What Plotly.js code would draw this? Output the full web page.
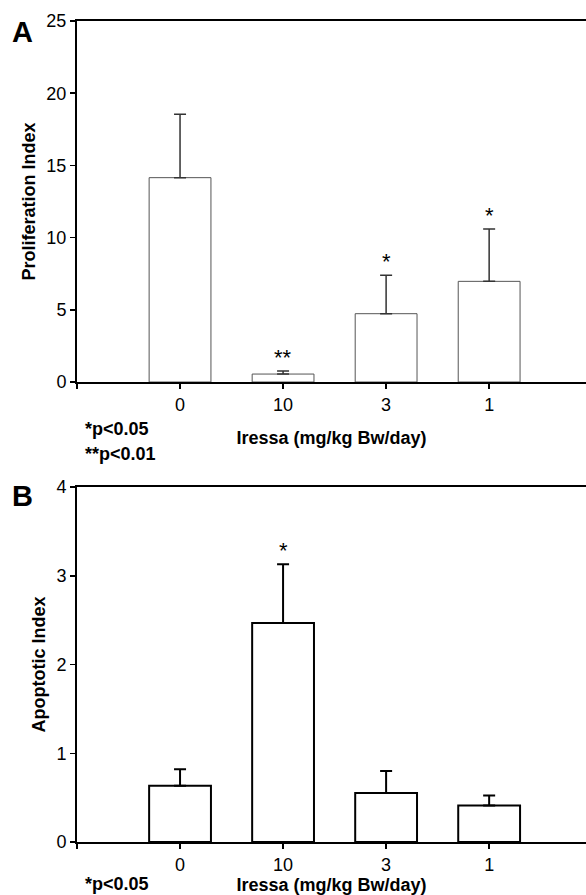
<!DOCTYPE html>
<html>
<head>
<meta charset="utf-8">
<script src="https://cdn.plot.ly/plotly-3.0.1.min.js"></script>
<style>html,body{margin:0;padding:0;background:#fff;}#chart{width:586px;height:895px;}</style>
</head>
<body>
<div id="chart"></div>
<script>
// ---- data ----
const doses = ['0', '10', '3', '1'];
const proliferation = [14.15, 0.55, 4.73, 6.97];
const proliferationErr = [4.39, 0.22, 2.67, 3.63];
const proliferationSig = ['', '**', '*', '*'];
const apoptotic = [0.633, 2.467, 0.551, 0.41];
const apoptoticErr = [0.187, 0.663, 0.249, 0.115];
const apoptoticSig = ['', '*', '', ''];

const xpos = doses.map((_, i) => i + 1);
const W = 586, H = 895;
const M = {l: 77, r: 0, t: 21, b: 53};
const pw = W - M.l - M.r, ph = H - M.t - M.b;
const px = x => (x - M.l) / pw;
const py = y => (H - M.b - y) / ph;
const FONT = 'Liberation Sans, Arial, Helvetica, sans-serif';

const traces = [
  {
    type: 'bar', x: xpos, y: proliferation, xaxis: 'x', yaxis: 'y', width: 0.6,
    marker: {color: '#ffffff', line: {color: '#555555', width: 1}},
    error_y: {type: 'data', array: proliferationErr, symmetric: false, arrayminus: proliferationErr.map(() => 0),
              color: '#333333', thickness: 1.5, width: 6},
    hoverinfo: 'skip', showlegend: false
  },
  {
    type: 'bar', x: xpos, y: apoptotic, xaxis: 'x2', yaxis: 'y2', width: 0.6,
    marker: {color: '#ffffff', line: {color: '#000000', width: 2}},
    error_y: {type: 'data', array: apoptoticErr, symmetric: false, arrayminus: apoptoticErr.map(() => 0),
              color: '#000000', thickness: 2, width: 6},
    hoverinfo: 'skip', showlegend: false
  }
];

function xax(domainAnchor, standoff) {
  return {
    anchor: domainAnchor, range: [0, 4.94], domain: [0, 1],
    tickmode: 'array', tickvals: [0].concat(xpos), ticktext: [''].concat(doses),
    ticks: 'outside', ticklen: 5, tickwidth: 1.5, tickcolor: '#000',
    showline: true, linewidth: 2, linecolor: '#000', mirror: true,
    showgrid: false, zeroline: false,
    tickfont: {family: FONT, size: 18, color: '#000'},
    title: {text: '<b>Iressa (mg/kg Bw/day)</b>', font: {family: FONT, size: 18, color: '#000'}, standoff: standoff}
  };
}
function yax(domain, range, dtick, title, anchor) {
  return {
    anchor: anchor, domain: domain, range: range, dtick: dtick, tick0: 0,
    ticks: 'outside', ticklen: 5, tickwidth: 1.5, tickcolor: '#000',
    showline: true, linewidth: 2, linecolor: '#000',
    showgrid: false, zeroline: false,
    tickfont: {family: FONT, size: 18, color: '#000'},
    title: {text: '<b>' + title + '</b>', font: {family: FONT, size: 18, color: '#000'}, standoff: 6}
  };
}

const annotations = [];
proliferationSig.forEach((s, i) => {
  if (s) annotations.push({xref: 'x', yref: 'y', x: xpos[i], y: proliferation[i] + proliferationErr[i],
    text: s, showarrow: false, yanchor: 'bottom', yshift: -1, font: {family: FONT, size: 22, color: '#000'}});
});
apoptoticSig.forEach((s, i) => {
  if (s) annotations.push({xref: 'x2', yref: 'y2', x: xpos[i], y: apoptotic[i] + apoptoticErr[i],
    text: s, showarrow: false, yanchor: 'bottom', yshift: -1, font: {family: FONT, size: 22, color: '#000'}});
});
const txt = (text, x, y, size, xanchor) => ({xref: 'paper', yref: 'paper', x: px(x), y: py(y), text: text,
  showarrow: false, xanchor: xanchor || 'left', yanchor: 'middle', font: {family: FONT, size: size, color: '#000'}});
annotations.push(txt('<b>A</b>', 10, 32, 29));
annotations.push(txt('<b>B</b>', 10, 496, 29));
annotations.push(txt('<b>*p<0.05</b>', 83, 429, 18));
annotations.push(txt('<b>**p<0.01</b>', 83, 454, 18));
annotations.push(txt('<b>*p<0.05</b>', 83, 884, 18));

const layout = {
  width: W, height: H, margin: M,
  paper_bgcolor: '#fff', plot_bgcolor: '#fff',
  bargap: 0.4,
  xaxis: xax('y', 18),
  yaxis: yax([py(382), 1], [0, 25], 5, 'Proliferation Index', 'x'),
  xaxis2: xax('y2', 13),
  yaxis2: yax([0, py(487)], [0, 4], 1, 'Apoptotic Index', 'x2'),
  annotations: annotations
};

Plotly.newPlot('chart', traces, layout, {staticPlot: true, displayModeBar: false});
</script>
</body>
</html>
